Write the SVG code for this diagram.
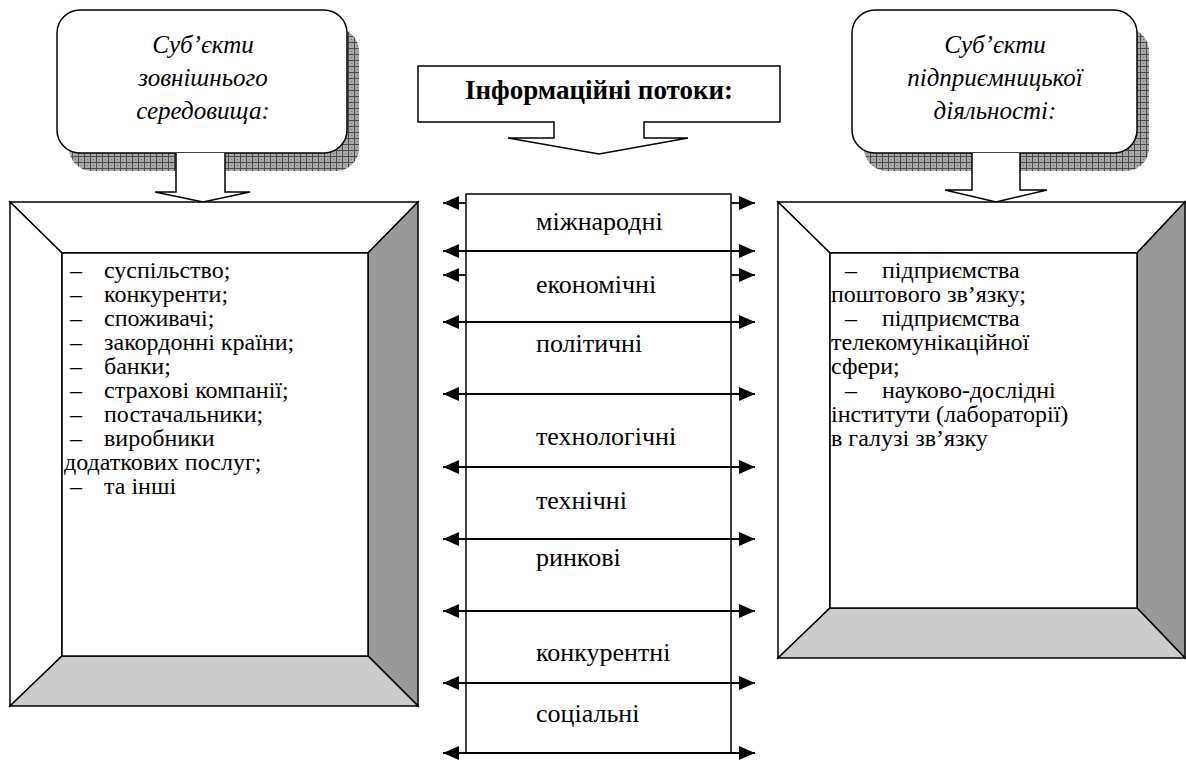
<svg xmlns="http://www.w3.org/2000/svg" width="1186" height="760" viewBox="0 0 1186 760">
<style>
.t{font-family:"Liberation Serif","Times New Roman",serif;font-size:24px;fill:#000}
.m{font-family:"Liberation Serif","Times New Roman",serif;font-size:26px;fill:#000}
.h{font-family:"Liberation Serif","Times New Roman",serif;font-size:25px;font-style:italic;fill:#000}
.b{font-family:"Liberation Serif","Times New Roman",serif;font-size:27px;font-weight:bold;fill:#000}
.o{stroke:#000;stroke-width:1.5;stroke-linejoin:miter}
.c{stroke:#000;stroke-width:1.8;fill:none}
</style>
<defs>
<pattern id="grid" width="6" height="6" patternUnits="userSpaceOnUse">
<rect width="6" height="6" fill="#a8a8a8"/>
<path d="M0,0.5H6M0.5,0V6" stroke="#4a4a4a" stroke-width="1"/>
<rect x="3" y="3" width="1" height="1" fill="#777"/>
</pattern>
<marker id="ah" viewBox="0 0 16 14" refX="16" refY="7" markerWidth="16" markerHeight="14" markerUnits="userSpaceOnUse" orient="auto-start-reverse">
<path d="M0,0L16,7L0,14z" fill="#000"/>
</marker>
</defs>

<g id="ext-subjects">
<rect x="69" y="28" width="290" height="143" rx="23" fill="url(#grid)"/>
<rect x="57" y="10" width="290" height="143" rx="23" fill="#fff" class="o"/>
<text class="h" text-anchor="middle" x="203" y="53">Суб’єкти</text>
<text class="h" text-anchor="middle" x="203" y="86">зовнішнього</text>
<text class="h" text-anchor="middle" x="203" y="119">середовища:</text>
<path d="M176,153V192H155L203,202L250,192H225V153" fill="#fff" class="o"/>
</g>

<g id="ent-subjects">
<rect x="864" y="28" width="285" height="143" rx="23" fill="url(#grid)"/>
<rect x="852" y="10" width="285" height="143" rx="23" fill="#fff" class="o"/>
<text class="h" text-anchor="middle" x="995" y="53">Суб’єкти</text>
<text class="h" text-anchor="middle" x="995" y="86">підприємницької</text>
<text class="h" text-anchor="middle" x="995" y="119">діяльності:</text>
<path d="M972,153V190H945L996,202L1047,190H1020V153" fill="#fff" class="o"/>
</g>

<g id="info-flows">
<path d="M418,66H780V122H644V138H688L599,154L508,138H554V122H418Z" fill="#fff" class="o"/>
<text class="b" text-anchor="middle" x="599" y="99">Інформаційні потоки:</text>
</g>

<g id="ext-list">
<polygon points="10,202 418,202 368,253 62,253" fill="#fff" class="o"/>
<polygon points="10,202 62,253 62,656 10,706" fill="#fff" class="o"/>
<polygon points="418,202 418,706 368,656 368,253" fill="#999" class="o"/>
<polygon points="10,706 62,656 368,656 418,706" fill="#ccc" class="o"/>
<rect x="62" y="253" width="306" height="403" fill="#fff" class="o"/>
<g class="t">
<text x="70" y="278">–</text><text x="104" y="278">суспільство;</text>
<text x="70" y="302">–</text><text x="104" y="302">конкуренти;</text>
<text x="70" y="326">–</text><text x="104" y="326">споживачі;</text>
<text x="70" y="350">–</text><text x="104" y="350">закордонні країни;</text>
<text x="70" y="374">–</text><text x="104" y="374">банки;</text>
<text x="70" y="398">–</text><text x="104" y="398">страхові компанії;</text>
<text x="70" y="422">–</text><text x="104" y="422">постачальники;</text>
<text x="70" y="446">–</text><text x="104" y="446">виробники</text>
<text x="64" y="470">додаткових послуг;</text>
<text x="70" y="494">–</text><text x="104" y="494">та інші</text>
</g>
</g>

<g id="ent-list">
<polygon points="778,202 1185,202 1137,253 830,253" fill="#fff" class="o"/>
<polygon points="778,202 830,253 830,608 778,658" fill="#fff" class="o"/>
<polygon points="1185,202 1185,658 1137,608 1137,253" fill="#999" class="o"/>
<polygon points="778,658 830,608 1137,608 1185,658" fill="#ccc" class="o"/>
<rect x="830" y="253" width="307" height="355" fill="#fff" class="o"/>
<g class="t">
<text x="845" y="278">–</text><text x="882" y="278">підприємства</text>
<text x="831" y="302">поштового зв’язку;</text>
<text x="845" y="326">–</text><text x="882" y="326">підприємства</text>
<text x="831" y="350">телекомунікаційної</text>
<text x="831" y="374">сфери;</text>
<text x="845" y="398">–</text><text x="882" y="398">науково-дослідні</text>
<text x="831" y="422">інститути (лабораторії)</text>
<text x="831" y="446">в галузі зв’язку</text>
</g>
</g>

<g id="flow-column">
<rect x="466" y="194" width="265" height="559" fill="#fff" class="o"/>
<g class="m">
<text x="536" y="230">міжнародні</text>
<text x="536" y="293">економічні</text>
<text x="536" y="352">політичні</text>
<text x="536" y="445">технологічні</text>
<text x="536" y="509">технічні</text>
<text x="536" y="566">ринкові</text>
<text x="536" y="661">конкурентні</text>
<text x="536" y="722">соціальні</text>
</g>
</g>

<g id="connectors">
<line class="c" x1="466" y1="203" x2="443" y2="203" marker-end="url(#ah)"/>
<line class="c" x1="731" y1="203" x2="755" y2="203" marker-end="url(#ah)"/>
<line class="c" x1="466" y1="275" x2="443" y2="275" marker-end="url(#ah)"/>
<line class="c" x1="731" y1="275" x2="755" y2="275" marker-end="url(#ah)"/>
<line class="c" x1="443" y1="251" x2="755" y2="251" marker-start="url(#ah)" marker-end="url(#ah)"/>
<line class="c" x1="443" y1="322" x2="755" y2="322" marker-start="url(#ah)" marker-end="url(#ah)"/>
<line class="c" x1="443" y1="394" x2="755" y2="394" marker-start="url(#ah)" marker-end="url(#ah)"/>
<line class="c" x1="443" y1="467" x2="755" y2="467" marker-start="url(#ah)" marker-end="url(#ah)"/>
<line class="c" x1="443" y1="539" x2="755" y2="539" marker-start="url(#ah)" marker-end="url(#ah)"/>
<line class="c" x1="443" y1="611" x2="755" y2="611" marker-start="url(#ah)" marker-end="url(#ah)"/>
<line class="c" x1="443" y1="683" x2="755" y2="683" marker-start="url(#ah)" marker-end="url(#ah)"/>
<line class="c" x1="443" y1="753" x2="755" y2="753" marker-start="url(#ah)" marker-end="url(#ah)"/>
</g>
</svg>
